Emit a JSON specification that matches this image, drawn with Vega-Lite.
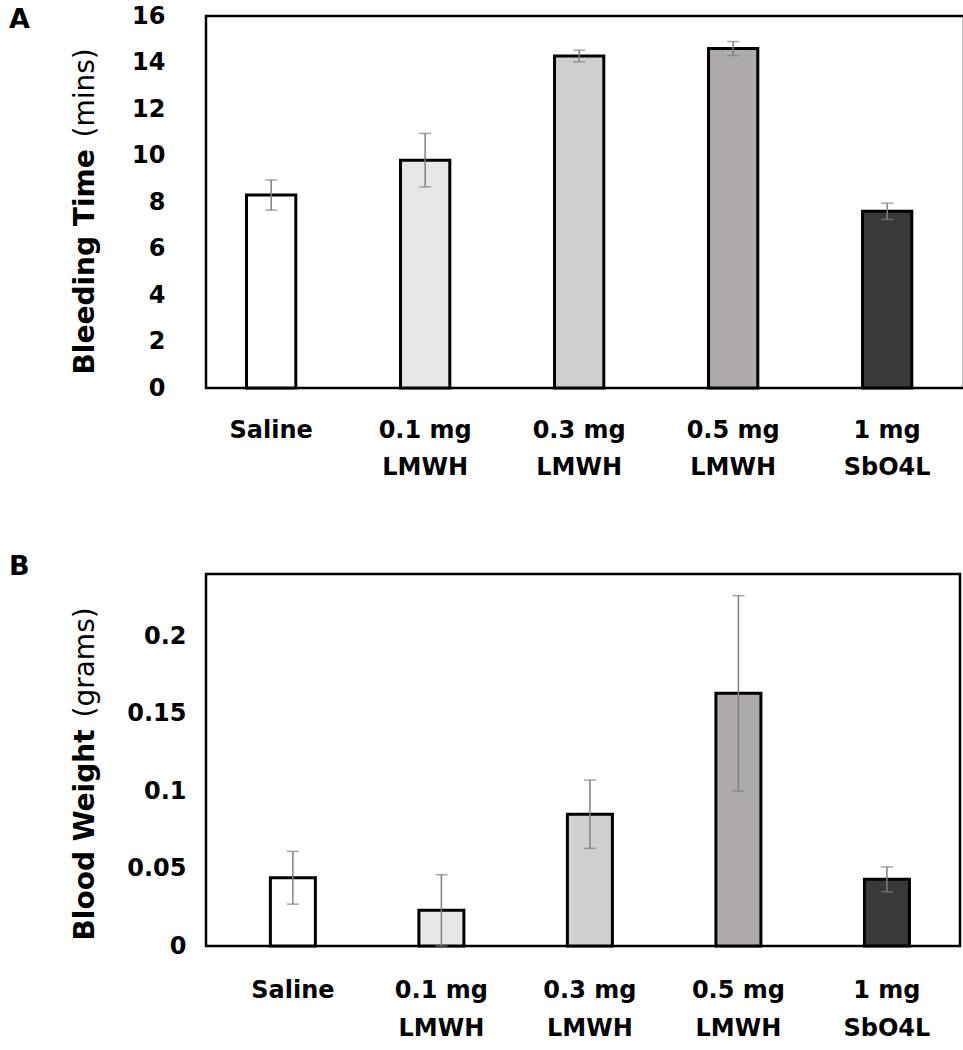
{
  "$schema": "https://vega.github.io/schema/vega-lite/v6.json",
  "background": "white",
  "padding": {"left": 7, "top": 2, "right": 0, "bottom": 0},
  "config": {"view": {"stroke": "black", "strokeWidth": 2.5}, "font": "DejaVu Sans"},
  "datasets": {
    "bleeding": [
      {"group": "Saline", "mean": 8.3, "err": 0.65},
      {"group": "0.1 mg LMWH", "mean": 9.8, "err": 1.15},
      {"group": "0.3 mg LMWH", "mean": 14.28, "err": 0.25},
      {"group": "0.5 mg LMWH", "mean": 14.6, "err": 0.3},
      {"group": "1 mg SbO4L", "mean": 7.6, "err": 0.35}
    ],
    "blood": [
      {"group": "Saline", "mean": 0.044, "err": 0.017},
      {"group": "0.1 mg LMWH", "mean": 0.023, "err": 0.023},
      {"group": "0.3 mg LMWH", "mean": 0.085, "err": 0.022},
      {"group": "0.5 mg LMWH", "mean": 0.163, "err": 0.063},
      {"group": "1 mg SbO4L", "mean": 0.043, "err": 0.008}
    ]
  },
  "vconcat": [
    {
      "width": 758,
      "height": 372,
      "data": {"name": "bleeding"},
      "title": {"text": "A", "anchor": "start", "frame": "bounds", "font": "DejaVu Sans", "fontSize": 27, "fontWeight": "bold", "color": "black", "dx": -62, "dy": 30, "offset": 0},
      "encoding": {
        "x": {
          "field": "group", "type": "nominal", "sort": null,
          "scale": {"paddingInner": 0.68, "paddingOuter": 0.301, "align": 0.437},
          "axis": {"title": null, "labelExpr": "datum.value == 'Saline' ? 'Saline' : split(replace(datum.value, 'mg ', 'mg|'), '|')", "labelFont": "DejaVu Sans", "labelFontWeight": "bold", "labelFontSize": 24, "labelColor": "black", "labelLineHeight": 37, "labelPadding": 30, "labelBaseline": "top", "labelAngle": 0, "ticks": false, "tickSize": 0, "domain": false}
        }
      },
      "layer": [
        {
          "mark": {"type": "bar", "stroke": "black", "strokeWidth": 3},
          "encoding": {
            "y": {
              "field": "mean", "type": "quantitative",
              "scale": {"domain": [0, 16], "nice": false},
              "axis": {"title": "Bleeding Time", "titleFont": "DejaVu Sans", "titleFontWeight": "bold", "titleFontSize": 28, "titleColor": "black", "titleAngle": -90, "titleAlign": "left", "titleBaseline": "bottom", "titleX": -107, "titleY": 358, "values": [0, 2, 4, 6, 8, 10, 12, 14, 16], "labelFont": "DejaVu Sans", "labelFontWeight": "bold", "labelFontSize": 24, "labelColor": "black", "labelPadding": 41, "ticks": false, "tickSize": 0, "domain": false, "grid": false}
            },
            "fill": {"field": "group", "type": "nominal", "sort": null, "legend": null, "scale": {"domain": ["Saline", "0.1 mg LMWH", "0.3 mg LMWH", "0.5 mg LMWH", "1 mg SbO4L"], "range": ["#ffffff", "#e7e6e6", "#d0cece", "#aeaaaa", "#3b3838"]}}
          }
        },
        {
          "mark": {"type": "errorbar", "ticks": {"size": 12}, "color": "#7f7f7f", "thickness": 1.5},
          "encoding": {
            "y": {
              "field": "mean", "type": "quantitative",
              "axis": {"orient": "left", "title": "(mins)", "titleFont": "DejaVu Sans", "titleFontWeight": "normal", "titleFontSize": 28, "titleColor": "black", "titleAngle": -90, "titleAlign": "left", "titleBaseline": "bottom", "titleX": -107, "titleY": 121, "labels": false, "ticks": false, "domain": false, "grid": false}
            },
            "yError": {"field": "err"}
          }
        }
      ],
      "resolve": {"axis": {"y": "independent"}}
    },
    {
      "width": 754,
      "height": 372,
      "data": {"name": "blood"},
      "title": {"text": "B", "anchor": "start", "frame": "bounds", "font": "DejaVu Sans", "fontSize": 27, "fontWeight": "bold", "color": "black", "dx": -62, "dy": 7, "offset": 0},
      "encoding": {
        "x": {
          "field": "group", "type": "nominal", "sort": null,
          "scale": {"paddingInner": 0.697, "paddingOuter": 0.387, "align": 0.56},
          "axis": {"title": null, "labelExpr": "datum.value == 'Saline' ? 'Saline' : split(replace(datum.value, 'mg ', 'mg|'), '|')", "labelFont": "DejaVu Sans", "labelFontWeight": "bold", "labelFontSize": 24, "labelColor": "black", "labelLineHeight": 38, "labelPadding": 32, "labelBaseline": "top", "labelAngle": 0, "ticks": false, "tickSize": 0, "domain": false}
        }
      },
      "layer": [
        {
          "mark": {"type": "bar", "stroke": "black", "strokeWidth": 3},
          "encoding": {
            "y": {
              "field": "mean", "type": "quantitative",
              "scale": {"domain": [0, 0.24], "nice": false},
              "axis": {"title": "Blood Weight", "titleFont": "DejaVu Sans", "titleFontWeight": "bold", "titleFontSize": 28, "titleColor": "black", "titleAngle": -90, "titleAlign": "left", "titleBaseline": "bottom", "titleX": -107, "titleY": 366, "values": [0, 0.05, 0.1, 0.15, 0.2], "format": "~g", "labelFont": "DejaVu Sans", "labelFontWeight": "bold", "labelFontSize": 24, "labelColor": "black", "labelPadding": 20, "ticks": false, "tickSize": 0, "domain": false, "grid": false}
            },
            "fill": {"field": "group", "type": "nominal", "sort": null, "legend": null, "scale": {"domain": ["Saline", "0.1 mg LMWH", "0.3 mg LMWH", "0.5 mg LMWH", "1 mg SbO4L"], "range": ["#ffffff", "#e7e6e6", "#d0cece", "#aeaaaa", "#3b3838"]}}
          }
        },
        {
          "mark": {"type": "errorbar", "ticks": {"size": 12}, "color": "#7f7f7f", "thickness": 1.5},
          "encoding": {
            "y": {
              "field": "mean", "type": "quantitative",
              "axis": {"orient": "left", "title": "(grams)", "titleFont": "DejaVu Sans", "titleFontWeight": "normal", "titleFontSize": 28, "titleColor": "black", "titleAngle": -90, "titleAlign": "left", "titleBaseline": "bottom", "titleX": -107, "titleY": 143, "labels": false, "ticks": false, "domain": false, "grid": false}
            },
            "yError": {"field": "err"}
          }
        }
      ],
      "resolve": {"axis": {"y": "independent"}}
    }
  ],
  "spacing": 70
}
